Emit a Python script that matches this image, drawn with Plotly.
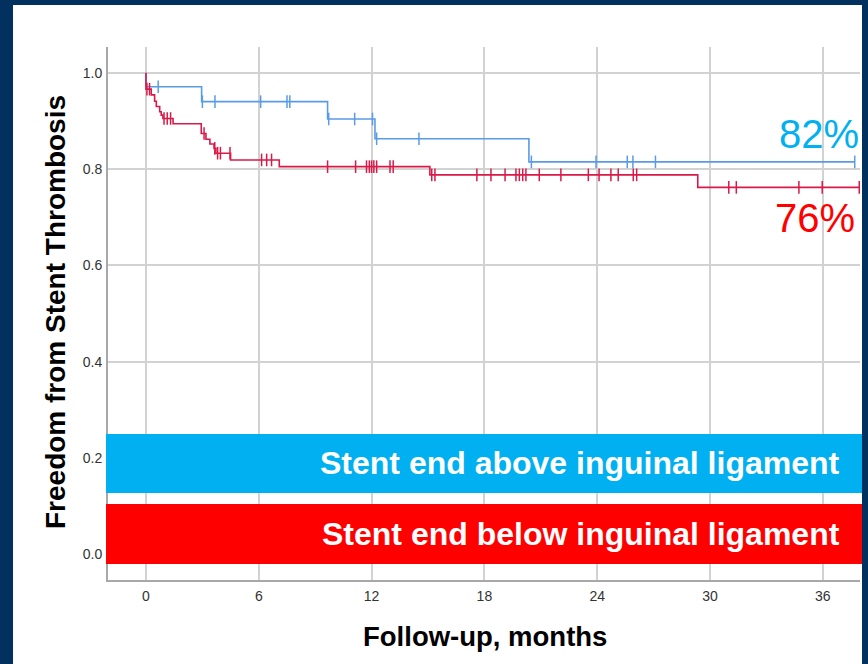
import numpy as np
import plotly.graph_objects as go

# ---------------- data ----------------
# Stent end above inguinal ligament (blue)
blue_event_times = [0, 2.96, 9.66, 12.18, 20.37]
blue_surv = [0.971, 0.940, 0.904, 0.863, 0.815]
blue_censor_times = [0.65, 3.0, 3.67, 6.1, 7.5, 7.65, 9.72, 11.1, 12.05, 12.27,
                     14.52, 20.5, 23.94, 25.6, 25.9, 27.1, 37.7]

# Stent end below inguinal ligament (red)
red_event_times = [0, 0.28, 0.46, 0.55, 0.73, 0.81, 0.90, 1.44, 2.94, 3.19,
                   3.40, 3.62, 3.72, 4.50, 7.09, 15.10, 29.35]
red_surv = [0.966, 0.954, 0.941, 0.930, 0.919, 0.912, 0.905, 0.894, 0.874, 0.862,
            0.852, 0.843, 0.833, 0.819, 0.805, 0.788, 0.762]
red_censor_times = [0.05, 0.19, 0.96, 1.13, 1.31, 3.09, 3.66, 3.81, 3.96, 4.47,
                    6.15, 6.42, 6.68, 9.66, 11.15, 11.73, 11.88, 12.0, 12.12, 12.27,
                    12.98, 13.15, 15.2, 15.37, 17.6, 18.35, 19.1, 19.68, 19.86,
                    20.04, 20.21, 20.92, 22.07, 23.53, 24.1, 24.73, 25.12, 25.92,
                    26.1, 31.0, 31.4, 34.73, 35.97, 37.94]

x_ticks = [0, 6, 12, 18, 24, 30, 36]
y_ticks = [0.0, 0.2, 0.4, 0.6, 0.8, 1.0]

group_labels = ["Stent end above inguinal ligament", "Stent end below inguinal ligament"]
final_labels = ["82%", "76%"]

# ---------------- styling ----------------
NAVY = "#02305f"
BLUE_LINE = "#5a9be6"
RED_LINE = "#d91a48"
BANNER_BLUE = "#00b0f0"
BANNER_RED = "#ff0000"
FONT = "Liberation Sans, Arial, sans-serif"

W, H = 868, 664
L, R, T, B = 108, 8, 47, 84
PW, PH = W - L - R, H - T - B


def px_x(px):
    return (px - L) / PW


def px_y(py):
    return (H - B - py) / PH


def km_step(times, surv, end):
    xs = [0.0] + list(times) + [end]
    ys = [1.0] + list(surv) + [surv[-1]]
    return xs, ys


def censor_y(times, surv, ctimes):
    t = np.asarray(times)
    s = np.asarray(surv)
    idx = np.searchsorted(t, np.asarray(ctimes), side="right") - 1
    return [1.0 if i < 0 else float(s[i]) for i in idx]


fig = go.Figure()

for ev, sv, cs, col in [
    (blue_event_times, blue_surv, blue_censor_times, BLUE_LINE),
    (red_event_times, red_surv, red_censor_times, RED_LINE),
]:
    xs, ys = km_step(ev, sv, max(cs))
    fig.add_trace(go.Scatter(x=xs, y=ys, mode="lines", line=dict(color=col, width=1.6, shape="hv"),
                             hoverinfo="skip", showlegend=False))
    fig.add_trace(go.Scatter(x=cs, y=censor_y(ev, sv, cs), mode="markers",
                             marker=dict(symbol="line-ns-open", size=9, color=col,
                                         line=dict(color=col, width=1.5)),
                             hoverinfo="skip", showlegend=False))

shapes = [
    # white panel
    dict(type="rect", xref="paper", yref="paper", x0=px_x(13), x1=px_x(862),
         y0=px_y(H + 20), y1=px_y(5), fillcolor="white", line=dict(width=0), layer="below"),
    # banners
    dict(type="rect", xref="paper", yref="paper", x0=px_x(106), x1=px_x(862),
         y0=px_y(493), y1=px_y(434), fillcolor=BANNER_BLUE, line=dict(width=0), layer="above"),
    dict(type="rect", xref="paper", yref="paper", x0=px_x(106), x1=px_x(862),
         y0=px_y(564), y1=px_y(504), fillcolor=BANNER_RED, line=dict(width=0), layer="above"),
]

annotations = [
    dict(text=group_labels[0], xref="paper", yref="paper", x=px_x(842), y=px_y(463.5),
         xanchor="right", yanchor="middle", showarrow=False,
         font=dict(family=FONT, size=32, color="white", weight="bold")),
    dict(text=group_labels[1], xref="paper", yref="paper", x=px_x(842), y=px_y(534),
         xanchor="right", yanchor="middle", showarrow=False,
         font=dict(family=FONT, size=32, color="white", weight="bold")),
    dict(text=final_labels[0], xref="paper", yref="paper", x=px_x(861), y=px_y(134),
         xanchor="right", yanchor="middle", showarrow=False,
         font=dict(family=FONT, size=40, color=BANNER_BLUE)),
    dict(text=final_labels[1], xref="paper", yref="paper", x=px_x(857), y=px_y(218),
         xanchor="right", yanchor="middle", showarrow=False,
         font=dict(family=FONT, size=40, color=BANNER_RED)),
    dict(text="Follow-up, months", xref="paper", yref="paper", x=px_x(485), y=px_y(636),
         xanchor="center", yanchor="middle", showarrow=False,
         font=dict(family=FONT, size=27.5, color="black", weight="bold")),
    dict(text="Freedom from Stent Thrombosis", xref="paper", yref="paper", x=px_x(55), y=px_y(312),
         xanchor="center", yanchor="middle", showarrow=False, textangle=-90,
         font=dict(family=FONT, size=28, color="black", weight="bold")),
]

fig.update_layout(
    width=W, height=H,
    margin=dict(l=L, r=R, t=T, b=B, pad=0),
    paper_bgcolor=NAVY, plot_bgcolor="white",
    shapes=shapes, annotations=annotations,
    font=dict(family=FONT),
    xaxis=dict(range=[-2.02, 37.98], tickvals=x_ticks, ticktext=[str(v) for v in x_ticks],
               showgrid=True, gridcolor="#d2d2d2", gridwidth=1.5, zeroline=False,
               showline=True, linecolor="#a8a8a8", linewidth=2, ticks="",
               ticklabelstandoff=2,
               tickfont=dict(family=FONT, size=14, color="#333333")),
    yaxis=dict(range=[-0.0533, 1.0535], tickvals=y_ticks, tickformat=".1f",
               showgrid=True, gridcolor="#d2d2d2", gridwidth=1.5, zeroline=False,
               showline=True, linecolor="#a8a8a8", linewidth=2, ticks="",
               ticklabelstandoff=1,
               tickfont=dict(family=FONT, size=14, color="#333333")),
)

fig.write_html("out.html", config={"displayModeBar": False},
               post_script="document.body.style.margin='0';document.body.style.background='%s';" % NAVY)
